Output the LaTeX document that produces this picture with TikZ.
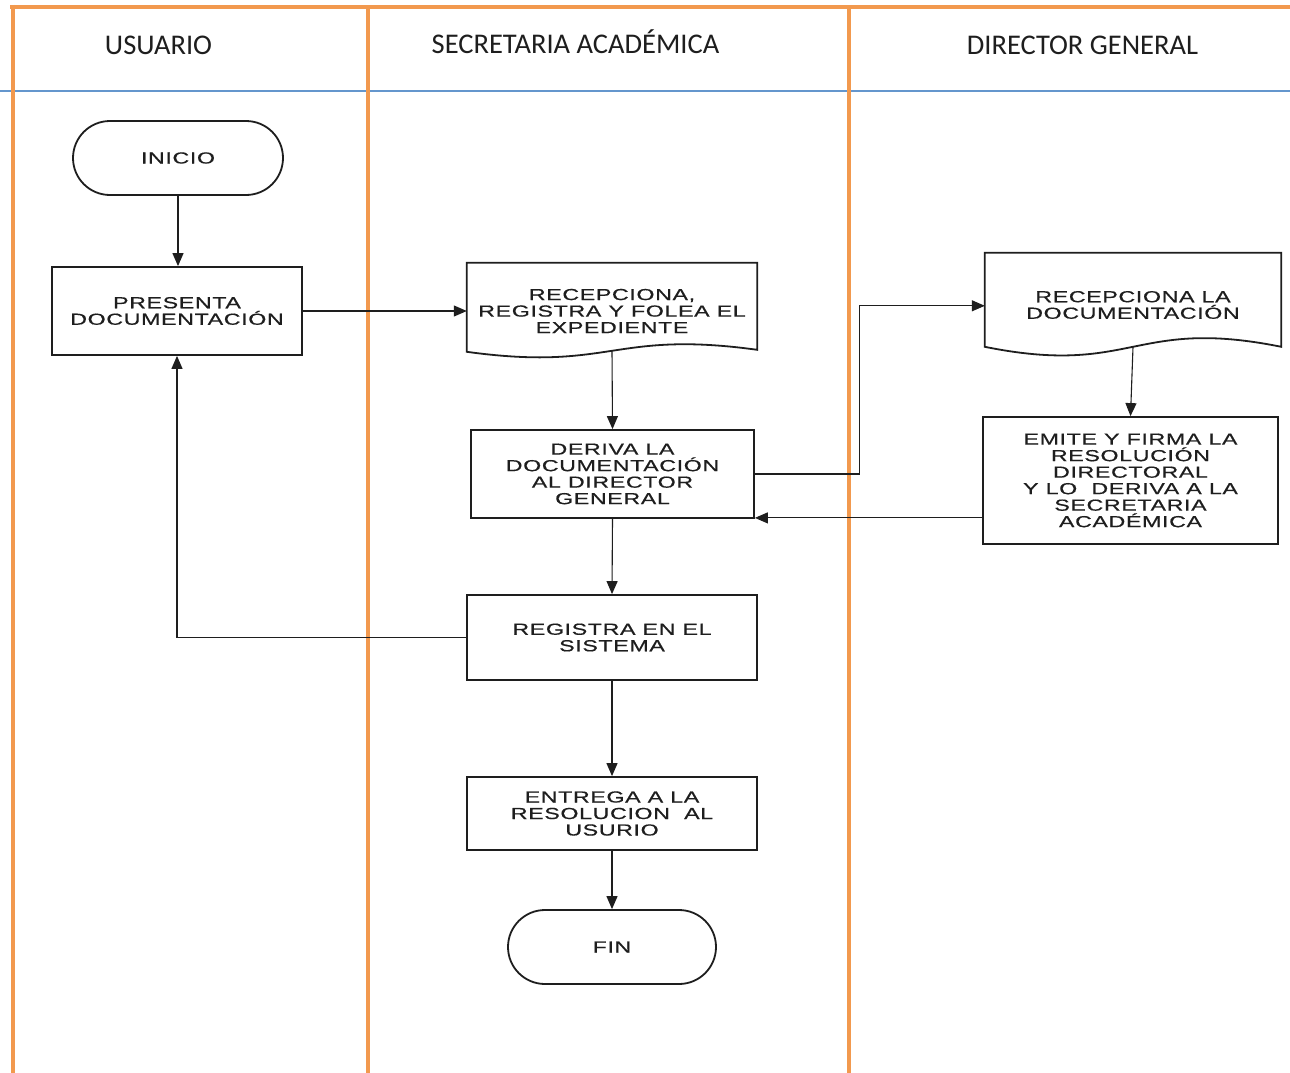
\documentclass[tikz,border=0pt]{standalone}
\usepackage{fontspec}
\usetikzlibrary{arrows.meta,calc}
\newfontfamily\hdrfam{Carlito}
\newfontfamily\boxfam{Liberation Sans}[FakeStretch=1.45,LetterSpace=4,FakeBold=0.5]
\newcommand\boxtext{\boxfam\fontsize{16}{16.5}\selectfont}
\newcommand\hdrtext{\hdrfam\fontsize{28.5}{30}\selectfont}
\definecolor{laneorange}{RGB}{242,153,78}
\definecolor{laneblue}{RGB}{100,150,205}
\definecolor{ink}{RGB}{30,30,30}
\begin{document}
\begin{tikzpicture}[x=1pt,y=-1pt,
  lane/.style={draw=laneorange,line width=4pt},
  hdr/.style={font=\hdrtext,text=ink,anchor=base,inner sep=0pt},
  procbox/.style={draw=ink,line width=1.8pt,rectangle,align=center,font=\boxtext,text=ink,inner sep=0pt},
  term/.style={procbox,rounded corners=37pt},
  docbox/.style={rectangle,align=center,font=\boxtext,text=ink,inner sep=0pt},
  docline/.style={draw=ink,line width=1.8pt,line join=miter},
  arr/.style={draw=ink,line width=1.1pt,-{Triangle[length=13pt,width=11pt]}}
]
\useasboundingbox (0,0) rectangle (1290,1073);
\fill[white] (0,0) rectangle (1290,1073);

% swimlanes
\draw[draw=laneblue,line width=2pt] (0,91) -- (1290,91);
\draw[lane] (10,7) -- (1290,7);
\draw[lane] (12.5,5) -- (12.5,1073);
\draw[lane] (367.5,7) -- (367.5,1073);
\draw[lane] (849,7) -- (849,1073);

\node[hdr] (h1) at (158.5,55) {USUARIO};
\node[hdr] (h2) at (575.5,53) {SECRETARIA ACADÉMICA};
\node[hdr] (h3) at (1082.5,55) {DIRECTOR GENERAL};

% nodes
\node[term,minimum width=210pt,minimum height=74pt] (inicio) at (178,158) {INICIO};
\node[procbox,minimum width=250pt,minimum height=88pt] (presenta) at (177,311) {PRESENTA\\DOCUMENTACIÓN};
\node[docbox,minimum width=290pt,minimum height=96pt] (recep) at (612,311) {RECEPCIONA,\\REGISTRA Y FOLEA EL\\EXPEDIENTE};
\node[procbox,minimum width=283pt,minimum height=88pt] (deriva) at (612.5,474) {DERIVA LA\\DOCUMENTACIÓN\\AL DIRECTOR\\GENERAL};
\node[procbox,minimum width=290pt,minimum height=85pt] (registra) at (612,637.5) {REGISTRA EN EL\\SISTEMA};
\node[procbox,minimum width=290pt,minimum height=73pt] (entrega) at (612,813.5) {ENTREGA A LA\\RESOLUCION\ \ AL\\USURIO};
\node[term,minimum width=208pt,minimum height=74pt] (fin) at (612,947) {FIN};
\node[docbox,minimum width=296pt,minimum height=104pt] (recdir) at (1133,305) {RECEPCIONA LA\\DOCUMENTACIÓN};
\node[procbox,minimum width=295pt,minimum height=127pt] (emite) at (1130.5,480.5) {EMITE Y FIRMA LA\\RESOLUCIÓN\\DIRECTORAL\\Y LO\ \ DERIVA A LA\\SECRETARIA\\ACADÉMICA};

% document outlines
\draw[docline] (recep.north west) -- (recep.north east) -- ($(recep.north east)+(0,87)$)
  .. controls ($(recep.north)+(0,67)$) and ($(recep.north)+(0,109)$) .. ($(recep.north west)+(0,89)$) -- cycle;
\draw[docline] (recdir.north west) -- (recdir.north east) -- ($(recdir.north east)+(0,94)$)
  .. controls ($(recdir.north)+(0,64)$) and ($(recdir.north)+(0,124)$) .. ($(recdir.north west)+(0,94)$) -- cycle;

\coordinate (recepout) at ($(recep.north)+(0,88)$);
\coordinate (recdirout) at ($(recdir.north)+(0,94)$);
\coordinate (recdirin) at ($(recdir.north west)+(0,53)$);
\coordinate (back) at ($(emite.south west)+(0,-27)$);

% connectors
\draw[arr] (inicio.south) -- (inicio.south |- presenta.north);
\draw[arr] (presenta.east) -- (presenta.east -| recep.west);
\draw[arr] (recepout) -- (deriva.north);
\draw[arr] (deriva.east) -- ++(105,0) |- (recdirin);
\draw[arr] (recdirout) -- (emite.north);
\draw[arr] (back) -- (back -| deriva.east);
\draw[arr] (deriva.south) -- (registra.north);
\draw[arr] (registra.west) -| (presenta.south);
\draw[arr] (registra.south) -- (entrega.north);
\draw[arr] (entrega.south) -- (fin.north);
\end{tikzpicture}
\end{document}
